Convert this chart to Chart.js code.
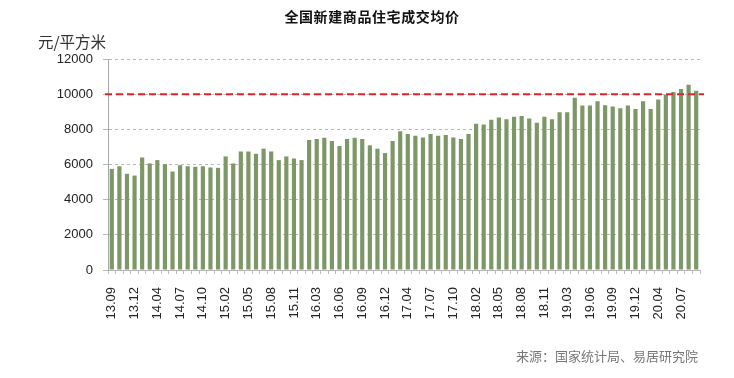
<!DOCTYPE html>
<html>
<head>
<meta charset="utf-8">
<script src="https://cdn.jsdelivr.net/npm/chart.js@4"></script>
<style>
	html, body { margin: 0; padding: 0; background: #fff; }
	#wrap { position: relative; width: 734px; height: 378px; }
	#price { position: absolute; left: 0; top: 0; }
	.txt { position: absolute; font-family: "Noto Sans CJK SC", sans-serif; white-space: nowrap; }
	#title { left: 0; width: 744px; top: 6px; text-align: center; font-size: 14px; font-weight: bold; color: #111; letter-spacing: 0.6px; }
	#unit { left: 38px; top: 30px; font-size: 15.5px; color: #333; }
	#source { left: 516px; top: 346px; font-size: 13px; color: #777; }
</style>
</head>
<body>
<div id="wrap">
	<canvas id="price" width="734" height="378"></canvas>
	<div class="txt" id="title">全国新建商品住宅成交均价</div>
	<div class="txt" id="unit">元/平方米</div>
	<div class="txt" id="source">来源：国家统计局、易居研究院</div>
</div>
<script>
// months (Jan and Feb are reported together as .02)
const months = [
	'13.09', '13.10', '13.11', '13.12',
	'14.02', '14.03', '14.04', '14.05', '14.06', '14.07', '14.08', '14.09', '14.10', '14.11', '14.12',
	'15.02', '15.03', '15.04', '15.05', '15.06', '15.07', '15.08', '15.09', '15.10', '15.11', '15.12',
	'16.02', '16.03', '16.04', '16.05', '16.06', '16.07', '16.08', '16.09', '16.10', '16.11', '16.12',
	'17.02', '17.03', '17.04', '17.05', '17.06', '17.07', '17.08', '17.09', '17.10', '17.11', '17.12',
	'18.02', '18.03', '18.04', '18.05', '18.06', '18.07', '18.08', '18.09', '18.10', '18.11', '18.12',
	'19.02', '19.03', '19.04', '19.05', '19.06', '19.07', '19.08', '19.09', '19.10', '19.11', '19.12',
	'20.02', '20.03', '20.04', '20.05', '20.06', '20.07', '20.08', '20.09'
];

// average price, yuan per square metre
const avgPrice = [
	5750, 5900, 5470, 5370,
	6400, 6060, 6250, 6020, 5600, 5960, 5900, 5870, 5900, 5830, 5810,
	6460, 6060, 6740, 6740, 6610, 6900, 6740, 6250, 6460, 6340, 6250,
	7390, 7450, 7520, 7330, 7050, 7450, 7520, 7450, 7090, 6900, 6650,
	7330, 7890, 7730, 7640, 7540, 7730, 7640, 7680, 7540, 7450, 7730,
	8320, 8270, 8550, 8670, 8570, 8720, 8760, 8610, 8380, 8720, 8570,
	8970, 8970, 9790, 9350, 9350, 9600, 9370, 9300, 9200, 9350, 9160,
	9600, 9160, 9700, 9980, 10130, 10290, 10530, 10190
];

const yTicks = [0, 2000, 4000, 6000, 8000, 10000, 12000];
const refLine = 10000;

const refLinePlugin = {
	id: 'refLine',
	afterDatasetsDraw(chart) {
		const { ctx, chartArea, scales } = chart;
		const y = scales.y.getPixelForValue(refLine);
		ctx.save();
		ctx.strokeStyle = '#d9272b';
		ctx.lineWidth = 2;
		ctx.setLineDash([7, 4]);
		ctx.beginPath();
		ctx.moveTo(chartArea.left - 3, y);
		ctx.lineTo(chartArea.right + 4, y);
		ctx.stroke();
		ctx.restore();
	}
};

const config_price = {
	type: 'bar',
	data: {
		labels: months,
		datasets: [
			{
				label: '成交均价',
				data: avgPrice,
				backgroundColor: '#7d9767',
				borderWidth: 0,
				barPercentage: 0.55,
				categoryPercentage: 1,
			},
		]
	},
	options: {
		responsive: false,
		animation: false,
		layout: {
			padding: { top: 59, right: 34, bottom: 0, left: 0 }
		},
		plugins: {
			legend: { display: false },
			title: { display: false },
			tooltip: { enabled: false }
		},
		scales: {
			x: {
				offset: true,
				afterFit: scale => { scale.height = 108; },
				grid: {
					offset: true,
					drawOnChartArea: false,
					drawTicks: true,
					tickLength: 4,
					color: '#bdbdbd'
				},
				border: { color: '#b5b5b5', width: 1 },
				ticks: {
					autoSkip: false,
					minRotation: 90,
					maxRotation: 90,
					padding: 13,
					color: '#222',
					font: { family: 'Liberation Sans', size: 13 },
					callback: (v, i) => (i % 3 === 0 ? months[i] : '')
				}
			},
			y: {
				min: 0,
				max: 12000,
				afterFit: scale => { scale.width = 108; },
				afterBuildTicks: scale => { scale.ticks = yTicks.map(v => ({ value: v })); },
				grid: {
					color: '#b8b8b8',
					tickLength: 5,
					tickColor: '#b8b8b8'
				},
				border: { color: '#a8a8a8', width: 1, dash: [3, 3] },
				ticks: {
					padding: 10,
					color: '#222',
					font: { family: 'Liberation Sans', size: 13 },
					callback: v => String(v)
				}
			}
		}
	},
	plugins: [refLinePlugin]
};

const price = new Chart(document.getElementById('price'), config_price);
</script>
</body>
</html>
